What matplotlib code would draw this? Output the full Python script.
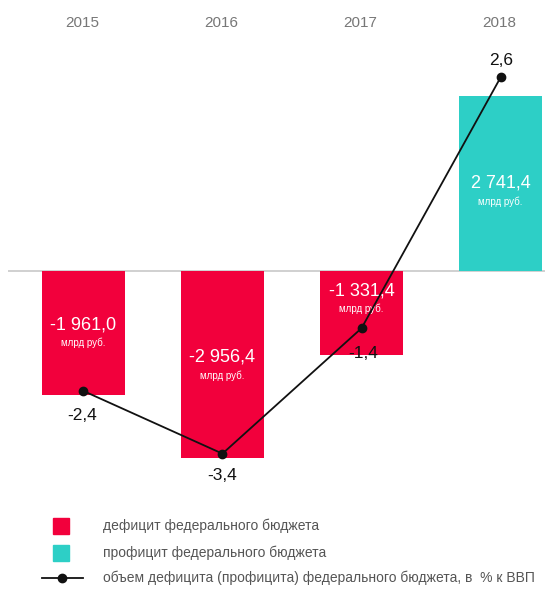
import matplotlib
matplotlib.use("Agg")
import matplotlib.pyplot as plt

plt.rcParams['font.family'] = ['Liberation Sans', 'DejaVu Sans']

years = ['2015', '2016', '2017', '2018']
balance = [-1961.0, -2956.4, -1331.4, 2741.4]          # млрд руб.
balance_labels = ['-1 961,0', '-2 956,4', '-1 331,4', '2 741,4']
pct_gdp = [-2.4, -3.4, -1.4, 2.6]
pct_labels = ['-2,4', '-3,4', '-1,4', '2,6']
unit = 'млрд руб.'
legend_labels = ['дефицит федерального бюджета',
                 'профицит федерального бюджета',
                 'объем дефицита (профицита) федерального бюджета, в  % к ВВП']

RED = '#F2003C'
TEAL = '#2DCFC6'

W, H = 545, 594
fig = plt.figure(figsize=(W / 100, H / 100), dpi=100)
ax = fig.add_axes([0, (H - 480) / H, 1, 480 / H])
ax.set_xlim(-0.599, 3.319)
ax.set_ylim(-3299, 4260)
ax.axis('off')

x = list(range(len(years)))
colors = [RED if v < 0 else TEAL for v in balance]
ax.bar(x, balance, width=0.599, color=colors, zorder=2)
ax.hlines(0, -0.541, 3.319, color='#c8c8c8', lw=1.2, zorder=1)

# year labels at the top
for i, yr in enumerate(years):
    ax.annotate(yr, xy=(i, 1), xycoords=('data', 'axes fraction'),
                xytext=(-1, -23), textcoords='offset pixels',
                ha='center', va='center', fontsize=11, color='#777777')

# bar value labels
val_dy = [8, 7, 22, 0]
for i, (v, lab) in enumerate(zip(balance, balance_labels)):
    ax.annotate(lab, xy=(i, v / 2), xytext=(0, val_dy[i]), textcoords='offset pixels',
                ha='center', va='center', fontsize=13, color='white', zorder=5)
    ax.annotate(unit, xy=(i, v / 2), xytext=(0, val_dy[i] - 18), textcoords='offset pixels',
                ha='center', va='center', fontsize=7, color='white', zorder=5)

# percent-of-GDP line on secondary axis
ax2 = ax.twinx()
ax2.set_ylim(-3.820, 3.833)
ax2.axis('off')
ax2.plot(x, pct_gdp, color='#111111', lw=1.3, marker='o', markersize=6, zorder=4)
pct_dy = [-25, -22, -25, 17]
pct_dx = [-1, 0, 2, 0]
for i, (v, lab) in enumerate(zip(pct_gdp, pct_labels)):
    ax2.annotate(lab, xy=(i, v), xytext=(pct_dx[i], pct_dy[i]), textcoords='offset pixels',
                 ha='center', va='center', fontsize=12.5, color='#111111', zorder=6)

# legend drawn in pixel coordinates
lg = fig.add_axes([0, 0, 1, 1], facecolor='none')
lg.set_xlim(0, W)
lg.set_ylim(H, 0)
lg.axis('off')
lg.plot([61], [526], marker='s', markersize=12, color=RED, ls='none')
lg.plot([61], [553], marker='s', markersize=12, color=TEAL, ls='none')
lg.plot([42, 83], [578, 578], color='#111111', lw=1.3)
lg.plot([62], [578], marker='o', markersize=6, color='#111111')
for yy, lab in zip([526, 553, 578], legend_labels):
    lg.text(103, yy, lab, ha='left', va='center', fontsize=10, color='#555555')

fig.savefig('out.png', dpi=100)
